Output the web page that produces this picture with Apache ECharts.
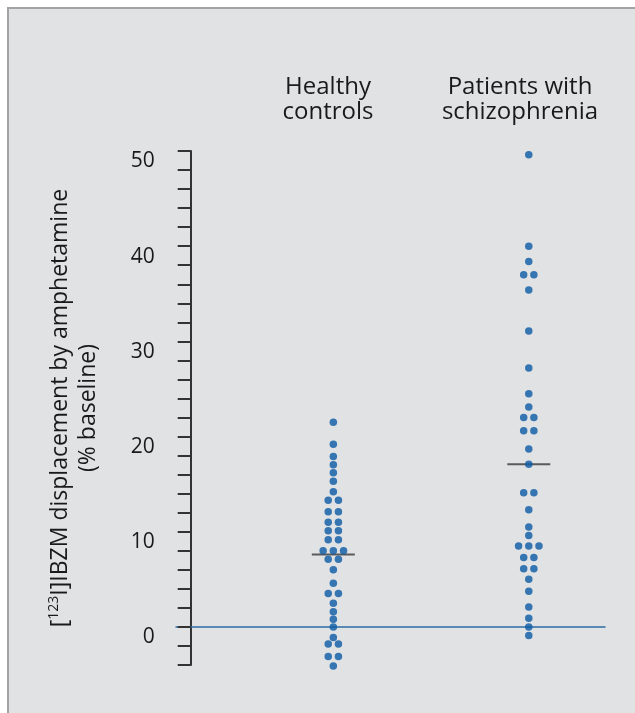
<!DOCTYPE html>
<html>
<head>
<meta charset="UTF-8">
<title>IBZM displacement</title>
<script src="https://cdn.jsdelivr.net/npm/echarts@6/dist/echarts.min.js"></script>
<style>
body { margin: 0; padding: 0; background: #fff; }
#main { width: 635px; height: 713px; }
</style>
</head>
<body>
<div id="main"></div>
<script>
// values (% displacement), equal values sit side by side
var controls = [21.5, 19.2, 17.9, 17.05, 16.2, 15.3, 14.2, 13.3, 13.3, 12.1, 12.1, 11.0, 11.0,
	10.1, 10.1, 9.15, 9.15, 8.0, 8.0, 8.0, 7.1, 7.1, 6.0, 4.6, 3.5, 3.5, 2.5, 1.6, 0.8, 0,
	-1.1, -1.8, -1.8, -3.1, -3.1, -4.1];
var patients = [49.6, 40.0, 38.4, 37.0, 37.0, 35.4, 31.1, 27.2, 24.5, 23.1, 22.0, 22.0,
	20.6, 20.6, 18.7, 17.1, 14.1, 14.1, 12.3, 10.5, 9.6, 8.5, 8.5, 8.5, 7.3, 7.3, 6.1, 6.1,
	5.0, 3.75, 2.1, 0.9, 0, -0.9];
var groupNames = ['Healthy\ncontrols', 'Patients with\nschizophrenia'];
var groupMeans = [7.6, 17.1];
var yTicks = [-4, 50, 2]; // min, max, tick step

var font = '"Open Sans", "Noto Sans", sans-serif';
var dotGap = 10.2;

// spread equal values sideways like a dot plot
function dots(vals, g) {
	var out = [];
	var i = 0;
	while (i < vals.length) {
		var j = i;
		while (j < vals.length && vals[j] === vals[i]) j++;
		var k = j - i;
		for (var n = 0; n < k; n++) {
			out.push({ value: [g, vals[i]], symbolOffset: [(n - (k - 1) / 2) * dotGap, 0] });
		}
		i = j;
	}
	return out;
}

var chart = echarts.init(document.getElementById('main'));
var option = {
	backgroundColor: '#fff',
	animation: false,
	textStyle: { fontFamily: font },
	graphic: [
		{ type: 'rect', z: -10, shape: { x: 8, y: 8, width: 700, height: 800 },
		  style: { fill: '#e1e2e4', stroke: '#a3a3a3', lineWidth: 2 } },
		{ type: 'text', x: 328, y: 99.5, style: { text: groupNames[0], fill: '#1a1a1a',
		  font: '24px ' + font, textAlign: 'center', textVerticalAlign: 'middle', lineHeight: 25 } },
		{ type: 'text', x: 520, y: 99.5, style: { text: groupNames[1], fill: '#1a1a1a',
		  font: '24px ' + font, textAlign: 'center', textVerticalAlign: 'middle', lineHeight: 25 } }
	],
	grid: { left: 176, right: 30, top: 151, bottom: 48 },
	xAxis: {
		type: 'value', min: 0.195, max: 2.39,
		axisLine: { onZero: true, lineStyle: { color: '#2d6da3', width: 1.5 } },
		axisTick: { show: false }, axisLabel: { show: false }, splitLine: { show: false }
	},
	yAxis: {
		type: 'value', min: yTicks[0], max: yTicks[1], interval: yTicks[2],
		offset: -14.7,
		axisLine: { show: true, onZero: false, lineStyle: { color: '#333', width: 2 } },
		axisTick: { show: true, length: 13, lineStyle: { color: '#333', width: 2 } },
		splitLine: { show: false },
		axisLabel: {
			margin: 36, fontSize: 21, color: '#1a1a1a', verticalAlign: 'top',
			formatter: function (v) { return v % 10 === 0 ? String(v) : ''; }
		},
		name: '{t|[}{sup|123}{t|I]IBZM displacement by amphetamine}\n{t|(% baseline)}',
		nameLocation: 'middle', nameRotate: 90, nameGap: 88,
		nameTextStyle: {
			color: '#1a1a1a', lineHeight: 28, align: 'center',
			rich: {
				t: { fontSize: 23, color: '#1a1a1a', fontFamily: font, lineHeight: 28 },
				sup: { fontSize: 14, color: '#1a1a1a', fontFamily: font, verticalAlign: 'top', lineHeight: 28 }
			}
		}
	},
	series: [
		{
			type: 'scatter', name: 'mean', symbol: 'rect', symbolSize: [43, 2], z: 2,
			itemStyle: { color: '#3a3a3a' }, clip: false,
			data: groupMeans.map(function (m, i) { return [i + 1, m]; })
		},
		{
			type: 'scatter', name: groupNames[0], symbolSize: 7.5, z: 3, clip: false,
			itemStyle: { color: '#0a5aa4' }, data: dots(controls, 1)
		},
		{
			type: 'scatter', name: groupNames[1], symbolSize: 7.5, z: 3, clip: false,
			itemStyle: { color: '#0a5aa4' }, data: dots(patients, 2)
		}
	]
};
chart.setOption(option);
</script>
</body>
</html>
